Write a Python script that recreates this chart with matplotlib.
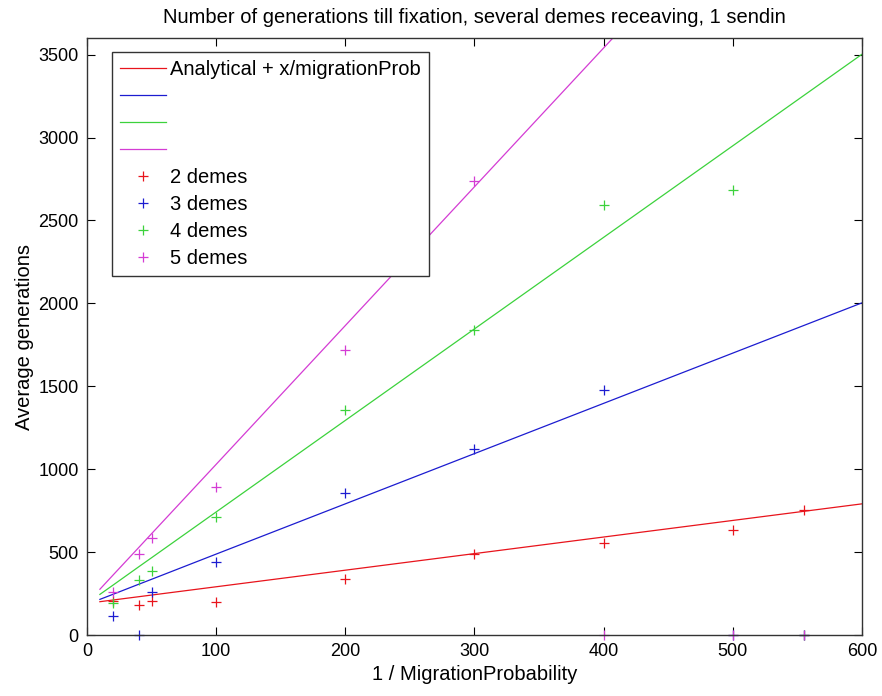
import matplotlib
matplotlib.use('Agg')
import matplotlib.pyplot as plt

plt.rcParams['font.family'] = ['Liberation Sans', 'DejaVu Sans']

# analytical curves
x_line = [10, 20, 40, 50, 100, 200, 300, 400, 500, 600]
red_line = [201, 211, 231, 241, 291, 391, 491, 591, 691, 791]
blue_line = [215, 245, 306, 336, 488, 791, 1094, 1397, 1700, 2003]
green_line = [245, 300, 411, 466, 742, 1294, 1846, 2398, 2950, 3502]
magenta_line = [276, 360, 527, 611, 1029, 1866, 2703, 3540, 4377, 5214]

# simulated points
x_sim = [20, 40, 50, 100, 200, 300, 400, 500, 555]
demes2 = [205, 181, 203, 197, 338, 489, 553, 634, 754]
demes3 = [117, 0, 259, 439, 855, 1121, 1479, 0, 0]
demes4 = [191, 332, 388, 714, 1354, 1841, 2591, 2681, 0]
demes5 = [261, 487, 583, 895, 1720, 2736, 0, 0, 0]

sim_labels = ['2 demes', '3 demes', '4 demes', '5 demes']
line_labels = ['Analytical + x/migrationProb', ' ', ' ', ' ']
colors = ['#e8141c', '#1c1cd0', '#3cd23c', '#d43cd4']

fig = plt.figure(figsize=(8.82, 6.96), dpi=100)
ax = fig.add_axes([0.0986, 0.0876, 0.8787, 0.8578])

handles = []
for ys, c in zip([red_line, blue_line, green_line, magenta_line], colors):
    h, = ax.plot(x_line, ys, color=c, lw=0.9)
    handles.append(h)
for ys, c in zip([demes2, demes3, demes4, demes5], colors):
    h, = ax.plot(x_sim, ys, '+', color=c, ms=7, mew=0.9, clip_on=False)
    handles.append(h)

ax.set_xlim(0, 600)
ax.set_ylim(0, 3600)
ax.set_xticks(range(0, 601, 100))
ax.set_yticks(range(0, 3501, 500))
ax.tick_params(direction='in', top=True, right=True, length=6, labelsize=13, pad=6)
for s in ax.spines.values():
    s.set_linewidth(1.0)
    s.set_color('#333333')

ax.set_title('Number of generations till fixation, several demes receaving, 1 sendin',
             fontsize=14.5, pad=11)
ax.set_xlabel('1 / MigrationProbability', fontsize=14.5, labelpad=3)
ax.set_ylabel('Average generations', fontsize=14.5, labelpad=3)

leg = ax.legend(handles, line_labels + sim_labels, loc='upper left',
                bbox_to_anchor=(0.032, 0.977), fontsize=14.5, handlelength=2.3,
                labelspacing=0.4, borderaxespad=0, fancybox=False,
                framealpha=1, borderpad=0.4, handletextpad=0.2)
leg.get_frame().set_edgecolor('#333333')
leg.get_frame().set_linewidth(1.0)

fig.savefig('out.png', dpi=100)
